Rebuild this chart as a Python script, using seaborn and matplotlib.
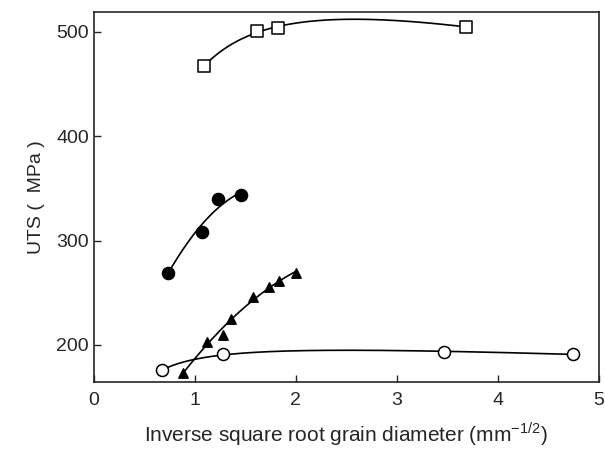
import numpy as np
import pandas as pd
import matplotlib
matplotlib.use("Agg")
import matplotlib.pyplot as plt
import seaborn as sns

# values (x: mm^-1/2, y: MPa)
sqX = [1.09, 1.62, 1.82, 3.68]
sqY = [467, 501, 504, 505]
dotX = [0.73, 1.07, 1.23, 1.46]
dotY = [269, 308, 340, 344]
triX = [0.88, 1.12, 1.28, 1.36, 1.58, 1.73, 1.83, 2.00]
triY = [173, 203, 210, 225, 246, 256, 261, 269]
ringX = [0.68, 1.28, 3.47, 4.74]
ringY = [176, 191, 193, 191.5]

sns.set_style("ticks")
plt.rcParams['font.family'] = ['Liberation Sans', 'DejaVu Sans']
plt.rcParams['mathtext.fontset'] = 'custom'
plt.rcParams['mathtext.rm'] = 'Liberation Sans'

fig, ax = plt.subplots(figsize=(6.05, 4.51), dpi=100)
fig.subplots_adjust(left=0.155, right=0.99, bottom=0.153, top=0.973)


def fitCurve(xs, ys, kind):
    # smooth guide line through the measured points
    xs = np.asarray(xs, float)
    ys = np.asarray(ys, float)
    if kind == 'sat':
        basis = lambda v: np.column_stack([np.ones_like(v), v, 1.0 / v])
    else:
        basis = lambda v: np.column_stack([np.ones_like(v), v, v ** 2])
    coef, *_ = np.linalg.lstsq(basis(xs), ys, rcond=None)
    xx = np.linspace(xs.min(), xs.max(), 150)
    return pd.DataFrame({'x': xx, 'y': basis(xx) @ coef})


series = [
    (sqX, sqY, 'sat', 's', 'white'),
    (dotX, dotY, 'quad', 'o', 'black'),
    (triX, triY, 'quad', '^', 'black'),
    (ringX, ringY, 'sat', 'o', 'white'),
]
for xs, ys, kind, mk, fc in series:
    curve = fitCurve(xs, ys, kind)
    sns.lineplot(data=curve, x='x', y='y', color='black', lw=1.2, ax=ax)
    pts = pd.DataFrame({'x': xs, 'y': ys})
    size = 75 if mk != '^' else 45
    sns.scatterplot(data=pts, x='x', y='y', marker=mk, s=size, facecolor=fc,
                    edgecolor='black', linewidth=1.1, zorder=5, ax=ax)

ax.set_xlim(0, 5)
ax.set_ylim(164.5, 519)
ax.set_xticks([0, 1, 2, 3, 4, 5])
ax.set_yticks([200, 300, 400, 500])
ax.tick_params(direction='in', length=5, width=1, labelsize=14, top=False, right=False)
ax.tick_params(axis='x', pad=7)
for s in ax.spines.values():
    s.set_linewidth(1.2)
ax.set_xlabel('Inverse square root grain diameter (mm$^{-1/2}$)', fontsize=15, labelpad=8)
ax.set_ylabel('UTS (  MPa )', fontsize=14, labelpad=8)
plt.savefig('out.png', dpi=100)
plt.close()
